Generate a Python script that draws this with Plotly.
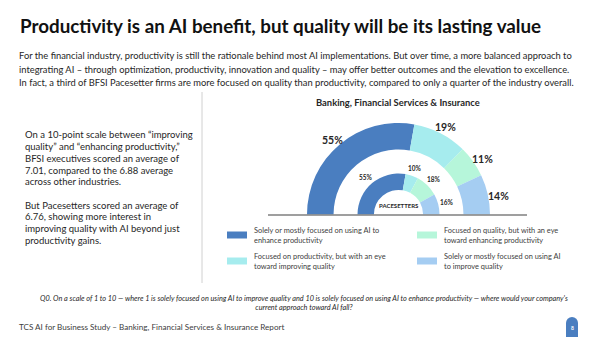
import math
import plotly.graph_objects as go

W, H = 600, 337

# ---- data ----
categories = [
    "Solely or mostly focused on using AI to enhance productivity",
    "Focused on productivity, but with an eye toward improving quality",
    "Focused on quality, but with an eye toward enhancing productivity",
    "Solely or mostly focused on using AI to improve quality",
]
bfsi_values = [55, 19, 11, 14]
pacesetter_values = [55, 10, 18, 16]
colors = ["#4a7ec0", "#a6ecee", "#b6f6da", "#a5cdf2"]

legend_lines = [
    ["Solely or mostly focused on using AI to", "enhance productivity"],
    ["Focused on productivity, but with an eye", "toward improving quality"],
    ["Focused on quality, but with an eye", "toward enhancing productivity"],
    ["Solely or mostly focused on using AI", "to improve quality"],
]

title = "Productivity is an AI benefit, but quality will be its lasting value"
intro = [
    "For the financial industry, productivity is still the rationale behind most AI implementations. But over time, a more balanced approach to",
    "integrating AI – through optimization, productivity, innovation and quality – may offer better outcomes and the elevation to excellence.",
    "In fact, a third of BFSI Pacesetter firms are more focused on quality than productivity, compared to only a quarter of the industry overall.",
]
side1 = [
    "On a 10-point scale between “improving",
    "quality” and “enhancing productivity,”",
    "BFSI executives scored an average of",
    "7.01, compared to the 6.88 average",
    "across other industries.",
]
side2 = [
    "But Pacesetters scored an average of",
    "6.76, showing more interest in",
    "improving quality with AI beyond just",
    "productivity gains.",
]
question = [
    "Q0. On a scale of 1 to 10 — where 1 is solely focused on using AI to improve quality and 10 is solely focused on using AI to enhance productivity — where would your company's",
    "current approach toward AI fall?",
]
footer = "TCS AI for Business Study – Banking, Financial Services & Insurance Report"
chart_title = "Banking, Financial Services & Insurance"
center_label = "PACESETTERS"
page_no = "8"

FONT = "Lato"


def px(x):
    return x / W


def py(y):
    return 1 - y / H


fig = go.Figure()

# ring geometry (pixels)
cx, cy = 398.5, 214.5
rings = [
    dict(vals=bfsi_values, r=91.5, hole=0.71, lab_r=103, size=10.5, shift=-4),
    dict(vals=pacesetter_values, r=41, hole=0.60, lab_r=50, size=6.5, shift=-1),
]

annotations = []
for ring in rings:
    vals = ring["vals"]
    total = sum(vals)
    r = ring["r"]
    fig.add_trace(go.Pie(
        values=vals + [total],
        labels=[f"c{i}" for i in range(len(vals))] + ["hidden"],
        marker=dict(colors=colors + ["rgba(0,0,0,0)"], line=dict(width=0)),
        hole=ring["hole"],
        sort=False,
        direction="clockwise",
        rotation=-90,
        textinfo="none",
        hoverinfo="skip",
        showlegend=False,
        domain=dict(x=[px(cx - r), px(cx + r)], y=[py(cy + r), py(cy - r)]),
    ))
    # labels
    start = 180.0
    for v in vals:
        span = v / total * 180.0
        mid = math.radians(start - span / 2)
        start -= span
        lx = cx + ring["lab_r"] * math.cos(mid)
        ly = cy - ring["lab_r"] * math.sin(mid)
        annotations.append(dict(
            x=px(lx), y=py(ly), xref="paper", yref="paper", showarrow=False,
            text=f"<b>{v}%</b>", xanchor="center", yanchor="middle",
            yshift=ring["shift"],
            font=dict(family=FONT, size=ring["size"], color="#262626"),
        ))

annotations.append(dict(
    x=px(cx), y=py(205), xref="paper", yref="paper", showarrow=False,
    text=f"<b>{center_label}</b>", xanchor="center", yanchor="middle",
    font=dict(family=FONT, size=6, color="#262626"),
))

# title
annotations.append(dict(
    x=px(18), y=py(25), xref="paper", yref="paper", showarrow=False,
    text=f"<b>{title}</b>", xanchor="left", yanchor="middle",
    font=dict(family=FONT, size=18.8, color="#111111"),
))
# intro paragraph
for i, line in enumerate(intro):
    annotations.append(dict(
        x=px(17), y=py(56 + i * 13.5), xref="paper", yref="paper", showarrow=False,
        text=line, xanchor="left", yanchor="middle",
        font=dict(family=FONT, size=9.35, color="#262626"),
    ))
# chart title
annotations.append(dict(
    x=px(398), y=py(102), xref="paper", yref="paper", showarrow=False,
    text=f"<b>{chart_title}</b>", xanchor="center", yanchor="middle",
    font=dict(family=FONT, size=9.4, color="#262626"),
))
# side text
for i, line in enumerate(side1):
    annotations.append(dict(
        x=px(23), y=py(135 + i * 11.7), xref="paper", yref="paper", showarrow=False,
        text=line, xanchor="left", yanchor="middle",
        font=dict(family=FONT, size=9.5, color="#262626"),
    ))
for i, line in enumerate(side2):
    annotations.append(dict(
        x=px(23), y=py(205 + i * 11.7), xref="paper", yref="paper", showarrow=False,
        text=line, xanchor="left", yanchor="middle",
        font=dict(family=FONT, size=9.5, color="#262626"),
    ))

# legend (manual)
shapes = []
leg_pos = [(227, 235), (227, 261), (417, 235), (417, 261)]
for k, (lx, ly) in enumerate(leg_pos):
    shapes.append(dict(
        type="rect", xref="paper", yref="paper",
        x0=px(lx), x1=px(lx + 20), y0=py(ly + 3.5), y1=py(ly - 3.5),
        fillcolor=colors[k], line=dict(width=0),
    ))
    annotations.append(dict(
        x=px(lx + 25), y=py(ly), xref="paper", yref="paper",
        showarrow=False, text="<br>".join(legend_lines[k]),
        xanchor="left", yanchor="middle", align="left",
        font=dict(family=FONT, size=7.4, color="#404040"),
    ))

# question note
annotations.append(dict(
    x=px(304), y=py(303), xref="paper", yref="paper", showarrow=False,
    text="<i>" + "<br>".join(question) + "</i>", xanchor="center", yanchor="middle",
    align="center",
    font=dict(family=FONT, size=7.3, color="#262626"),
))
# footer
annotations.append(dict(
    x=px(17), y=py(327), xref="paper", yref="paper", showarrow=False,
    text=footer, xanchor="left", yanchor="middle",
    font=dict(family=FONT, size=8.1, color="#404040"),
))
# page badge
shapes.append(dict(type="circle", xref="paper", yref="paper",
                   x0=px(566), x1=px(578), y0=py(329), y1=py(317),
                   fillcolor="#4a7ec0", line=dict(width=0)))
shapes.append(dict(type="rect", xref="paper", yref="paper",
                   x0=px(566), x1=px(578), y0=py(337), y1=py(323),
                   fillcolor="#4a7ec0", line=dict(width=0)))
annotations.append(dict(
    x=px(572), y=py(328), xref="paper", yref="paper", showarrow=False,
    text=f"<b>{page_no}</b>", xanchor="center", yanchor="middle",
    font=dict(family=FONT, size=5, color="white"),
))

# divider line and baseline
shapes.append(dict(type="line", xref="paper", yref="paper",
                   x0=px(202), x1=px(202), y0=py(92), y1=py(283),
                   line=dict(color="#d0d0d0", width=1)))
shapes.append(dict(type="line", xref="paper", yref="paper",
                   x0=px(268), x1=px(527), y0=py(215), y1=py(215),
                   line=dict(color="#7f7f7f", width=1.5)))

fig.update_layout(
    width=W, height=H,
    margin=dict(l=0, r=0, t=0, b=0),
    paper_bgcolor="white", plot_bgcolor="white",
    annotations=annotations, shapes=shapes,
    showlegend=False,
)

fig.write_html("out.html", config={"displayModeBar": False})
